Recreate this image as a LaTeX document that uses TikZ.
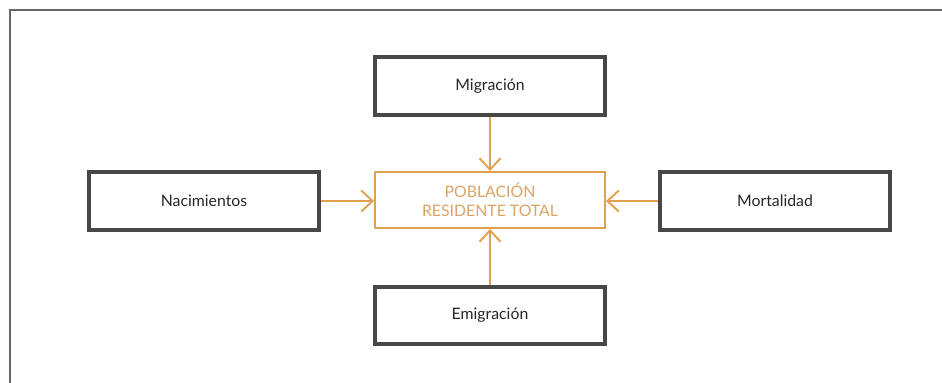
\documentclass[tikz,border=0pt]{standalone}
\usepackage{fontspec}
\setmainfont{Lato}
\usetikzlibrary{arrows.meta}
\usetikzlibrary{positioning}
\usetikzlibrary{shadows}

\definecolor{boxgray}{HTML}{474747}
\definecolor{poborange}{HTML}{E3A04F}
\definecolor{pobtext}{HTML}{DBA467}

\begin{document}
\begin{tikzpicture}[-{Straight Barb[length=6.5pt,width=12pt,line width=1.1pt]}, shorten >=0pt,
                    every node/.append style={on grid,node distance=2.28cm and 5.7cm},
                    factor/.style={draw=boxgray,line width=2pt,fill=white,minimum width=4.6cm,minimum height=1.15cm,
                                   font=\fontsize{9}{11}\selectfont,text=black!85,
                                   drop shadow={opacity=0.25,shadow xshift=0.5pt,shadow yshift=-0.8pt}},
                    total/.style={draw=poborange,line width=1.1pt,minimum width=4.6cm,minimum height=1.12cm,
                                  align=center,font=\fontsize{9}{11}\selectfont,text=pobtext}]

\useasboundingbox (0,0) rectangle (18.84,-7.66);
\draw[-,gray!80!black,line width=0.8pt] (0.2,-7.66) -- (0.2,-0.2) -- (18.84,-0.2);

\node[total] (pob) at (9.8,-4.0) {POBLACIÓN\\RESIDENTE TOTAL};
\node[factor,above=of pob] (mig) {Migración};
\node[factor,below=of pob,yshift=-0.03cm] (emi) {Emigración};
\node[factor,left=of pob,xshift=-0.02cm,yshift=-0.02cm] (nac) {Nacimientos};
\node[factor,right=of pob,yshift=-0.02cm] (mor) {Mortalidad};

\draw[poborange,line width=1.1pt] (mig) -- (pob);
\draw[poborange,line width=1.1pt] (emi) -- (pob);
\draw[poborange,line width=1.1pt] (nac) -- (nac -| pob.west);
\draw[poborange,line width=1.1pt] (mor) -- (mor -| pob.east);

\end{tikzpicture}
\end{document}
